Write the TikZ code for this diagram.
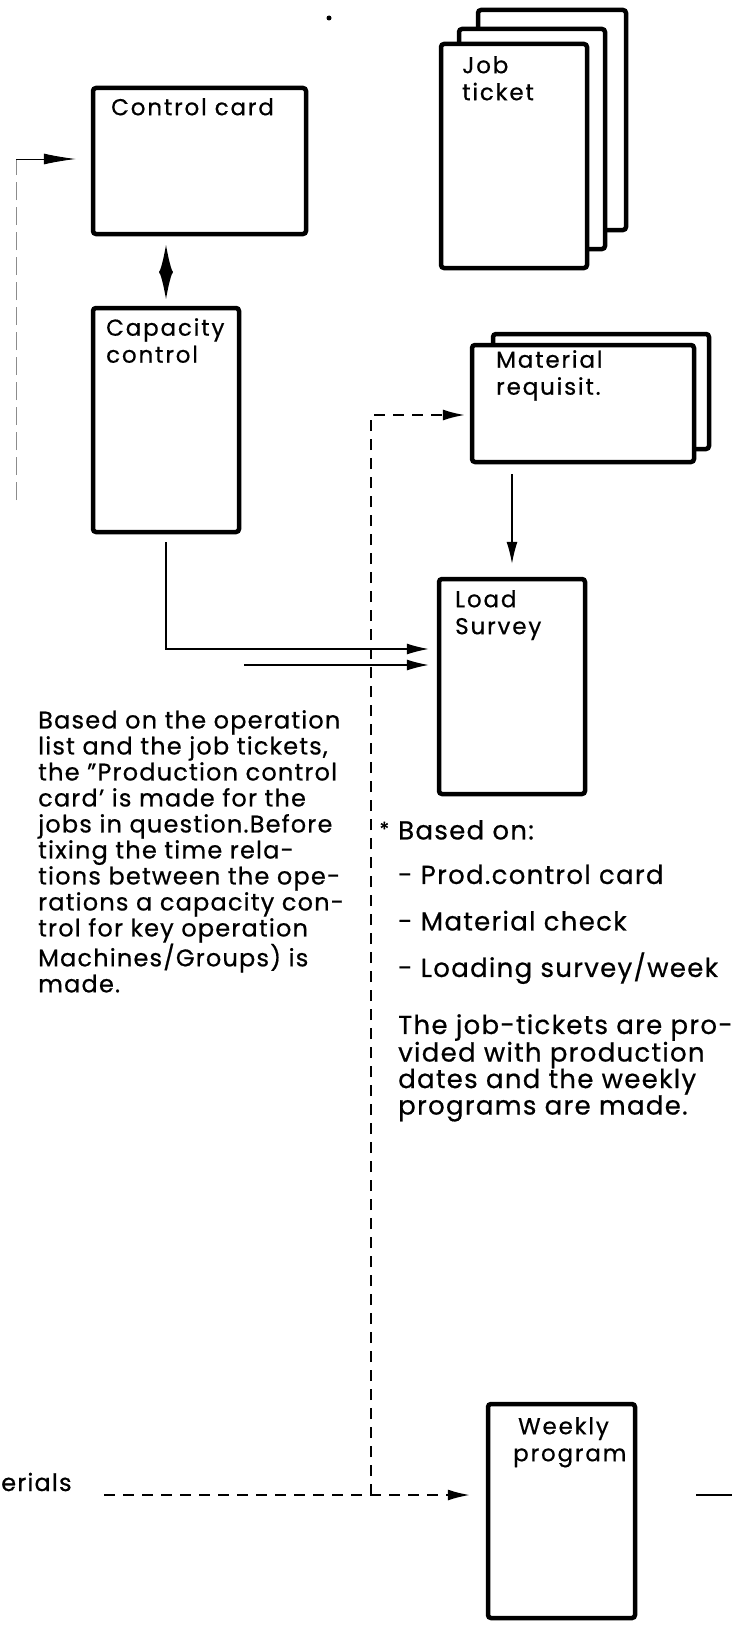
\documentclass[tikz,border=0pt]{standalone}
\usepackage{fontspec}
\setmainfont{Poppins}[LetterSpace=5, FakeBold=0.6]
\newfontfamily\cardfont{Poppins}[LetterSpace=8, FakeBold=0.6]
\usetikzlibrary{arrows.meta,positioning}

\tikzset{
  card/.style={draw, line width=4.5pt, rounded corners=3pt, fill=white, inner sep=0pt},
  cardtext/.style={anchor=north west, inner sep=0pt, align=left, font=\cardfont\fontsize{23}{27}\selectfont},
  note/.style={anchor=north west, inner sep=0pt, align=left, font=\fontsize{24}{26}\selectfont},
  bignote/.style={note, font=\fontsize{26}{26.5}\selectfont},
  tip/.style={-{Latex[length=22pt,width=11pt]}},
  flow/.style={line width=1.2pt, tip},
  dashflow/.style={line width=1.8pt, dash pattern=on 11pt off 8pt},
}

\begin{document}
\begin{tikzpicture}[x=1pt, y=-1pt]
    \useasboundingbox (0,0) rectangle (732,1627);
    % Speck on the sheet
    \fill (329,18) circle (2.5);
    % Control card and capacity control
    \node[card, minimum width=213pt, minimum height=146pt] (cc) at (199.5,161) {};
    \node[cardtext] (cc-t) at (111,98) {Control card};
    \node[card, minimum width=146pt, minimum height=224pt] (cap) at (166,420) {};
    \node[cardtext] (cap-t) at (106,318) {Capacity\\control};
    % Job tickets (stack of three)
    \node[card, minimum width=148pt, minimum height=220pt] (job3) at (552,120) {};
    \node[card, minimum width=146pt, minimum height=220pt] (job2) at (532,139) {};
    \node[card, minimum width=146pt, minimum height=224pt] (job) at (514,156) {};
    \node[cardtext] (job-t) at (462,56) {Job\\ticket};
    % Material requisition (stack of two)
    \node[card, minimum width=216pt, minimum height=115pt] (mat2) at (601,391.5) {};
    \node[card, minimum width=222pt, minimum height=117pt] (mat) at (583,403.5) {};
    \node[cardtext] (mat-t) at (496,350) {Material\\requisit.};
    % Load survey
    \node[card, minimum width=146pt, minimum height=215pt] (load) at (512,686.5) {};
    \node[cardtext] (load-t) at (455,590) {Load\\Survey};
    % Weekly program
    \node[card, minimum width=147pt, minimum height=214pt] (wp) at (561.5,1511) {};
    \node[cardtext] (wp-t) at (513,1417) {\hspace*{5pt}Weekly\\program};
    % Notes
    \node[note] (note-l) at (38,710) {Based on the operation\\list and the job tickets,\\the "Production control\\card' is made for the\\jobs in question.Before\\tixing the time rela-\\tions between the ope-\\rations a capacity con-\\trol for key operation\\Machines/Groups) is\\made.};
    \node[bignote] (note-r) at (398,820) {\llap{\raisebox{3pt}{\fontsize{20}{20}\selectfont*}\hspace{9pt}}Based on:\\[18pt]- Prod.control card\\[20pt]- Material check\\[20pt]- Loading survey/week};
    \node[bignote] (note-r2) at (398,1014) {The job-tickets are pro-\\vided with production\\dates and the weekly\\programs are made.};
    \node[note, anchor=base west] (mat-lbl) at (1,1491) {erials};
    % Connectors
    \coordinate (fb) at (16,500);
    \coordinate (fbc) at (16,159);
    \draw[line width=0.8pt, black!45, dash pattern=on 18pt off 7pt] (fb) -- (fbc);
    \draw[line width=0.9pt, -{Latex[length=32pt,width=11pt]}, shorten >=15pt] (fbc) -- (cc.west |- fbc);
    \draw[line width=3pt, {Latex[length=30pt,width=14pt]}-{Latex[length=30pt,width=14pt]}, shorten <=7pt, shorten >=5pt] (cc.south -| cap.north) -- (cap.north);
    \draw[flow, shorten <=8pt, shorten >=8pt] (cap.south) |- ([yshift=37.5pt]load.west);
    \coordinate (in2) at (244,665);
    \draw[flow, shorten >=8pt] (in2) -- (load.west |- in2);
    \draw[flow, shorten <=10pt, shorten >=13pt] (load.north |- mat.south) -- (load.north);
    % Dashed feed
    \coordinate (src) at (104,1495);
    \coordinate (jn) at (371,1495);
    \draw[dashflow, tip, shorten >=16pt] (src) -- (wp.west |- jn);
    \draw[dashflow, tip, shorten >=5pt] (jn) |- ([yshift=-11.5pt]mat.west);
    \coordinate (wp-out) at (696,1495);
    \coordinate (out) at (732,1495);
    \draw[line width=1.2pt] (wp-out) -- (out);
\end{tikzpicture}
\end{document}
